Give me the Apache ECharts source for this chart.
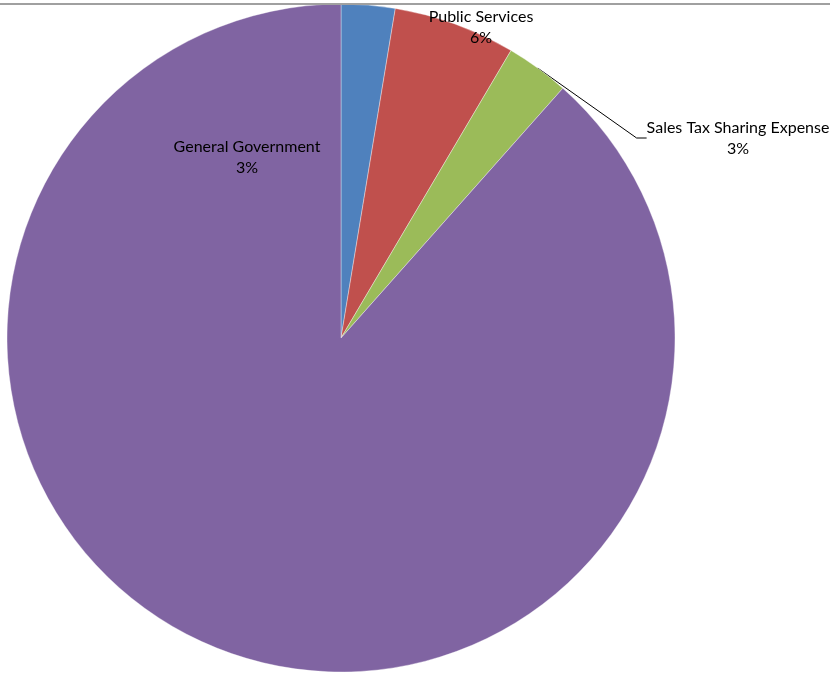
<!DOCTYPE html>
<html>
<head>
<meta charset="utf-8">
<script src="https://cdn.jsdelivr.net/npm/echarts@6/dist/echarts.min.js"></script>
<style>
  html, body { margin: 0; padding: 0; background: #fff; }
  #chart { width: 830px; height: 676px; }
</style>
</head>
<body>
<div id="chart"></div>
<script>
// Expense shares (percent of total)
const categories = ['General Government', 'Public Services', 'Sales Tax Sharing Expense', 'Other'];
const values = [2.6, 5.9, 3.06, 88.44];
const colors = ['#4F81BD', '#C0504D', '#9BBB59', '#8064A2'];
// Which slices carry a visible label
const showLabel = [true, true, true, false];

const chart = echarts.init(document.getElementById('chart'), null, { renderer: 'canvas' });

// Label anchor spots (centre of each label block)
const labelSpots = [
  { x: 247, y: 157 },
  { x: 481, y: 27 },
  { x: 738, y: 138 }
];

const data = categories.map((name, i) => ({
  name,
  value: values[i],
  itemStyle: { color: colors[i] },
  label: { show: showLabel[i] },
  labelLine: { show: i === 2, lineStyle: { color: '#000', width: 1 } }
}));

chart.setOption({
  animation: false,
  backgroundColor: '#fff',
  graphic: [{
    type: 'line',
    shape: { x1: 0, y1: 4, x2: 830, y2: 4 },
    style: { stroke: '#a0a0a0', lineWidth: 2 },
    z: 100
  }],
  series: [{
    type: 'pie',
    center: [341, 338],
    radius: 334,
    startAngle: 90,
    clockwise: true,
    avoidLabelOverlap: false,
    itemStyle: { borderColor: 'rgba(255,255,255,0.6)', borderWidth: 0.6 },
    label: {
      show: true,
      position: 'outside',
      formatter: p => p.name + '\n' + Math.round(p.value) + '%',
      color: '#000',
      fontFamily: 'Lato, "Open Sans", sans-serif',
      fontSize: 16,
      lineHeight: 21,
      align: 'center'
    },
    labelLine: { length: 10, length2: 10, smooth: false },
    labelLayout: function (params) {
      const s = labelSpots[params.dataIndex];
      if (!s) return {};
      return { x: s.x, y: s.y, align: 'center', verticalAlign: 'middle' };
    },
    data
  }]
});
</script>
</body>
</html>
